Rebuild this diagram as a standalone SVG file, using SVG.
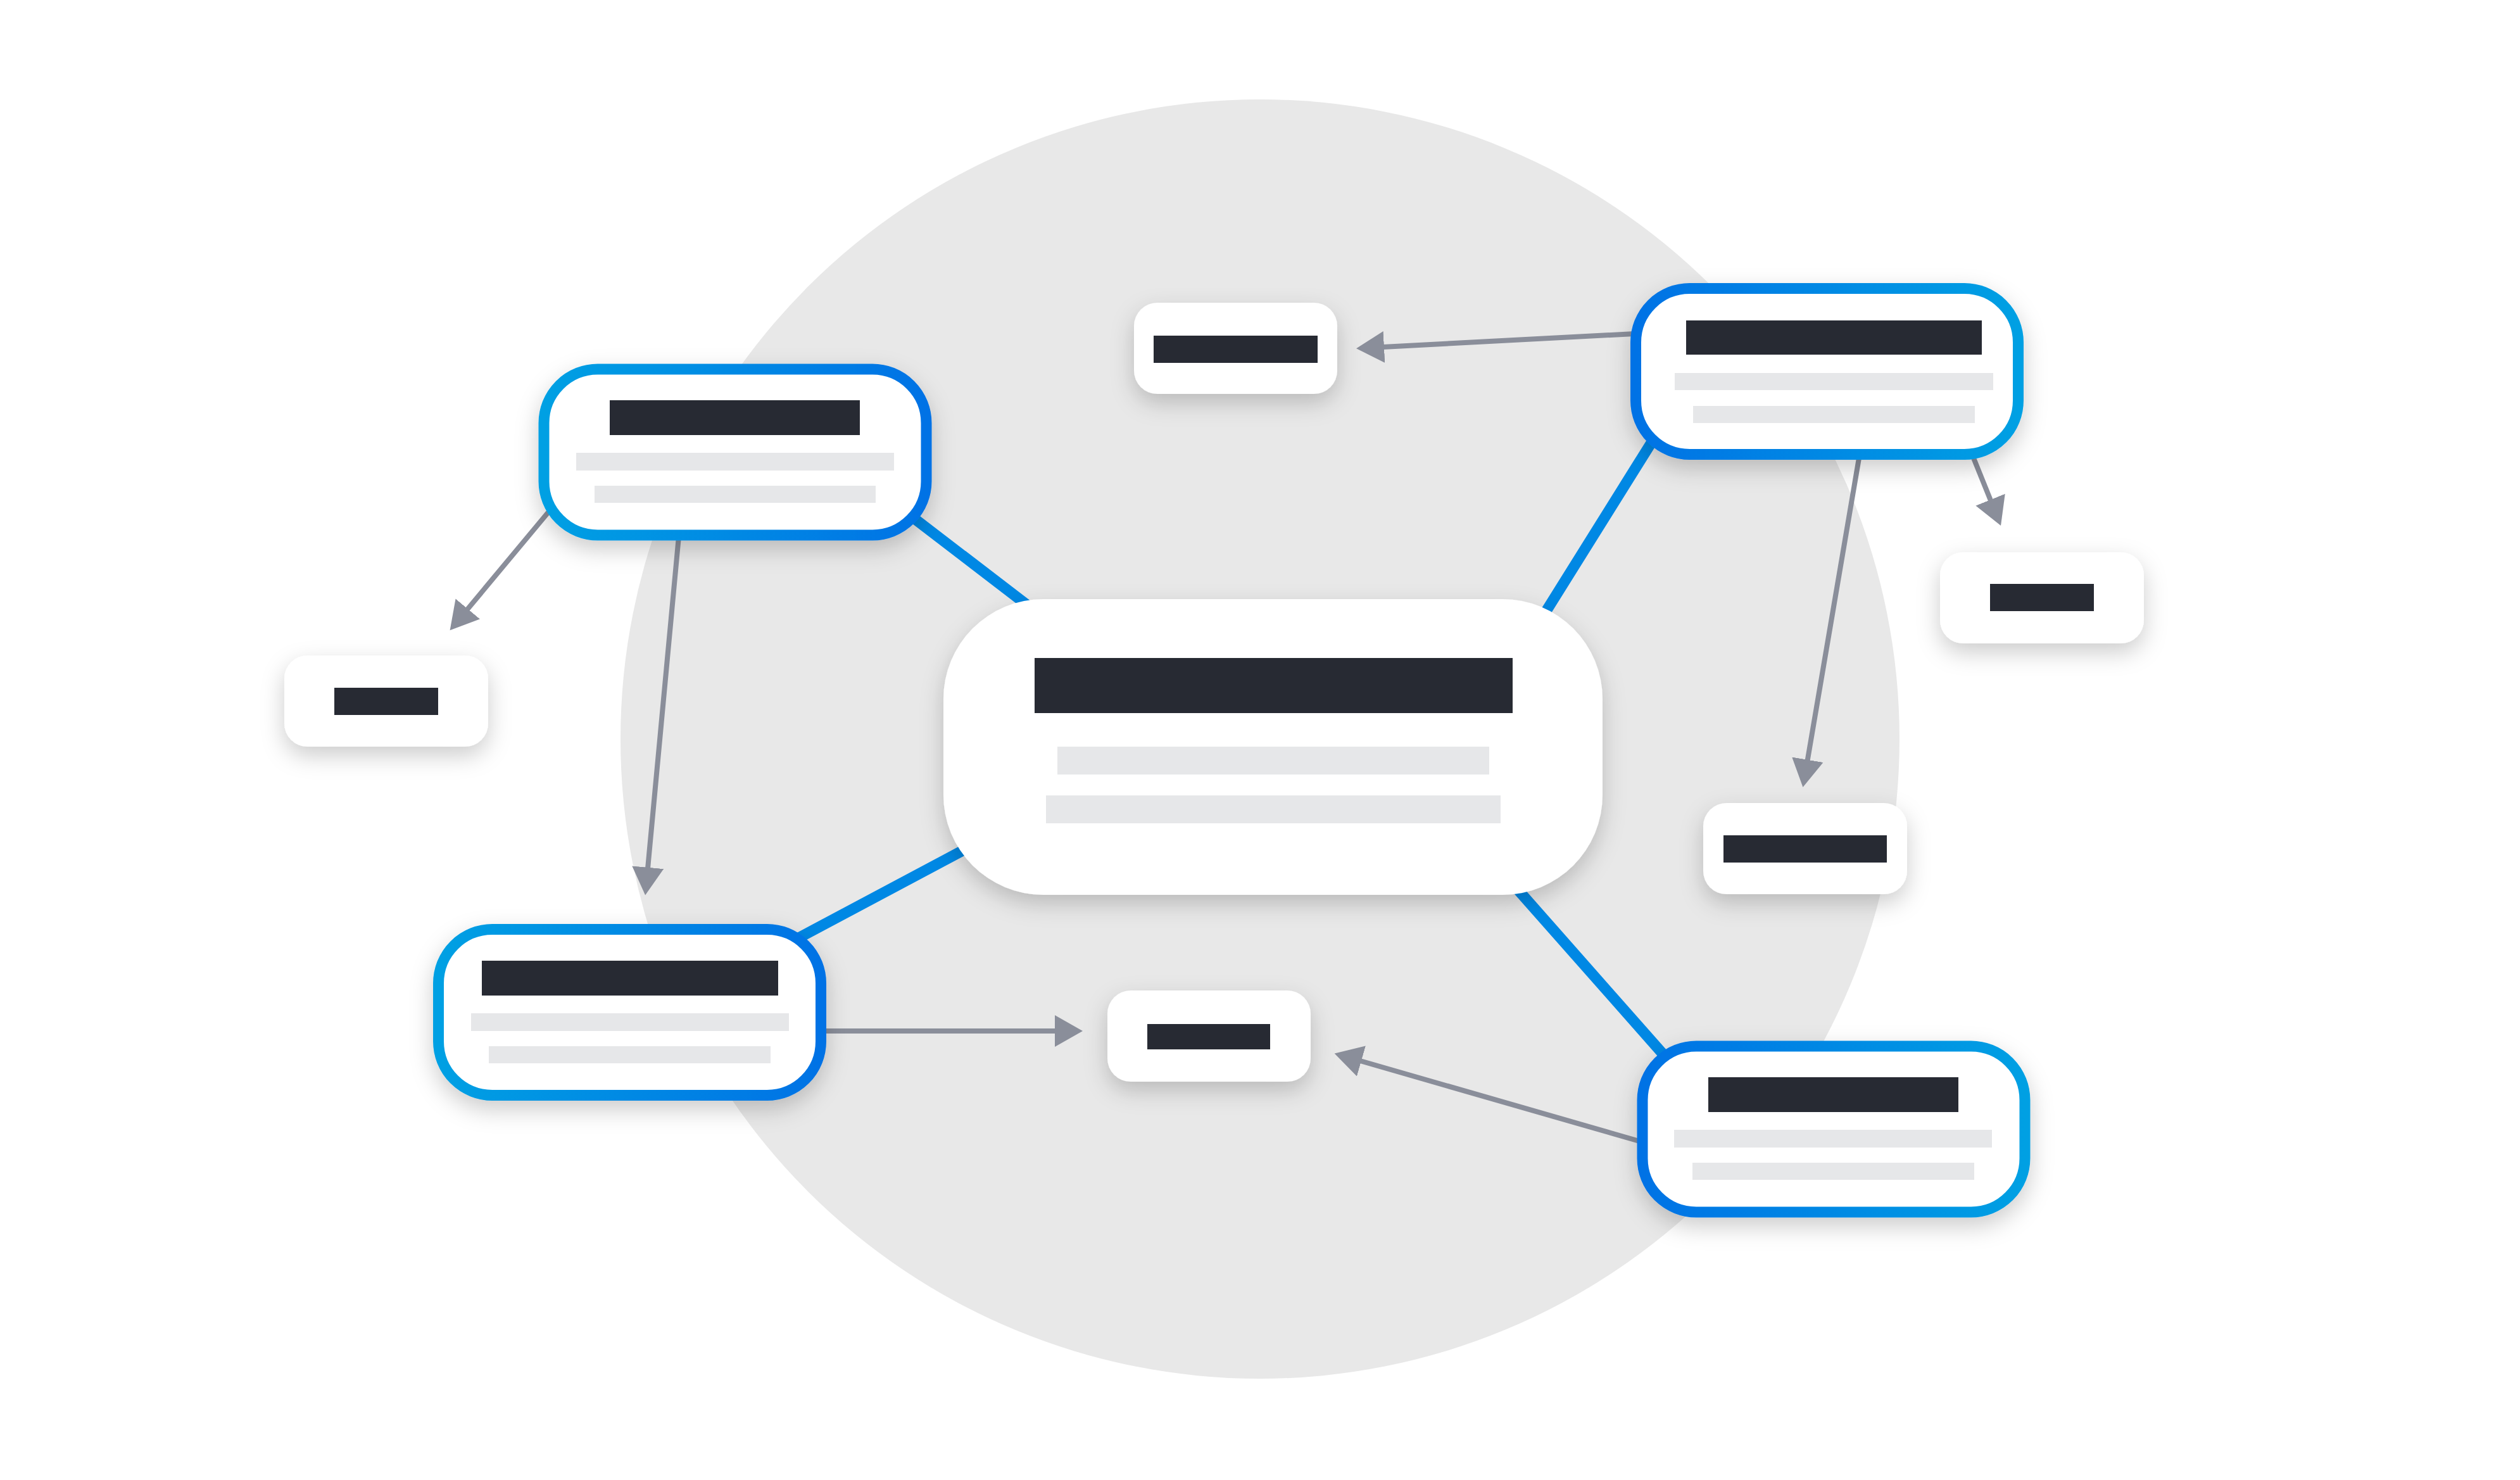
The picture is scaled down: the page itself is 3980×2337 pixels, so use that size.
<svg xmlns="http://www.w3.org/2000/svg" width="3980" height="2337" viewBox="0 0 3980 2337">
<style>
.card{fill:#ffffff;filter:url(#sh)}
.bord{stroke-width:17}
.dark{fill:#272a33}
.lite{fill:#e6e7e9}
.blue{stroke:#0088e4;stroke-width:17;fill:none}
.gray{stroke:#8a8e9a;stroke-width:8;fill:none;marker-end:url(#ah)}
</style>
<defs>
<linearGradient id="gLD" x1="0" y1="0" x2="1" y2="0">
<stop offset="0" stop-color="#00a0e3"/>
<stop offset="1" stop-color="#0072e5"/>
</linearGradient>
<linearGradient id="gDL" x1="0" y1="0" x2="1" y2="0">
<stop offset="0" stop-color="#0072e5"/>
<stop offset="1" stop-color="#00a0e3"/>
</linearGradient>
<filter id="sh" x="-25%" y="-30%" width="150%" height="170%">
<feDropShadow dx="0" dy="14" stdDeviation="18" flood-color="#000000" flood-opacity="0.2"/>
</filter>
<marker id="ah" markerUnits="userSpaceOnUse" markerWidth="46" markerHeight="52" refX="2" refY="25" orient="auto">
<path d="M0,0 L44,25 L0,50 z" fill="#8a8e9a"/>
</marker>
</defs>
<rect x="0" y="0" width="3980" height="2337" fill="#ffffff"/>
<circle cx="1990" cy="1167" r="1010" fill="#e8e8e8"/>
<g id="connectors">
<path class="blue" d="M1400,785 L1700,1015"/>
<path class="blue" d="M2620,680 L2420,1000"/>
<path class="blue" d="M1220,1503 L1560,1322"/>
<path class="blue" d="M2385,1391 L2680,1725"/>
<path class="gray" d="M897.5,771 L737.5,963"/>
<path class="gray" d="M1073.6,830 L1023,1371.7"/>
<path class="gray" d="M1280,1628 L1668,1628"/>
<path class="gray" d="M2610,1808 L2148,1675"/>
<path class="gray" d="M2600,526 L2184,548"/>
<path class="gray" d="M2940,700 L2854.5,1201.7"/>
<path class="gray" d="M3107.6,700 L3144.3,791"/>
</g>
<g id="node-center">
<rect class="card" x="1490" y="946" width="1041" height="467" rx="158"/>
<rect class="dark" x="1634" y="1039" width="755" height="87"/>
<rect class="lite" x="1670" y="1179" width="682" height="44"/>
<rect class="lite" x="1652" y="1256" width="718" height="44"/>
</g>
<g id="node-a">
<rect class="card bord" x="859" y="583" width="604" height="262" rx="85" stroke="url(#gLD)"/>
<rect class="dark" x="963" y="632" width="395" height="55"/>
<rect class="lite" x="910" y="715" width="502" height="28"/>
<rect class="lite" x="939" y="767" width="444" height="27"/>
</g>
<g id="node-b">
<rect class="card bord" x="2583.5" y="455.5" width="604" height="262" rx="85" stroke="url(#gDL)"/>
<rect class="dark" x="2663" y="506" width="467" height="54"/>
<rect class="lite" x="2645" y="589" width="503" height="27"/>
<rect class="lite" x="2674" y="641" width="445" height="27"/>
</g>
<g id="node-c">
<rect class="card bord" x="692.5" y="1467.5" width="604" height="262" rx="85" stroke="url(#gLD)"/>
<rect class="dark" x="761" y="1517" width="468" height="55"/>
<rect class="lite" x="744" y="1600" width="502" height="28"/>
<rect class="lite" x="772" y="1652" width="445" height="27"/>
</g>
<g id="node-d">
<rect class="card bord" x="2594" y="1652" width="604" height="262" rx="85" stroke="url(#gDL)"/>
<rect class="dark" x="2698" y="1701" width="395" height="55"/>
<rect class="lite" x="2644" y="1784" width="502" height="28"/>
<rect class="lite" x="2673" y="1836" width="445" height="27"/>
</g>
<g id="node-s1">
<rect class="card" x="1791" y="478" width="321" height="144" rx="37"/>
<rect class="dark" x="1822" y="530" width="259" height="43"/>
</g>
<g id="node-s2">
<rect class="card" x="449" y="1035" width="322" height="144" rx="37"/>
<rect class="dark" x="528" y="1086" width="164" height="43"/>
</g>
<g id="node-s3">
<rect class="card" x="3064" y="872" width="322" height="144" rx="37"/>
<rect class="dark" x="3143" y="922" width="164" height="43"/>
</g>
<g id="node-s4">
<rect class="card" x="2690" y="1268" width="322" height="144" rx="37"/>
<rect class="dark" x="2722" y="1319" width="258" height="43"/>
</g>
<g id="node-s5">
<rect class="card" x="1749" y="1564" width="321" height="144" rx="37"/>
<rect class="dark" x="1812" y="1617" width="194" height="40"/>
</g>
</svg>
